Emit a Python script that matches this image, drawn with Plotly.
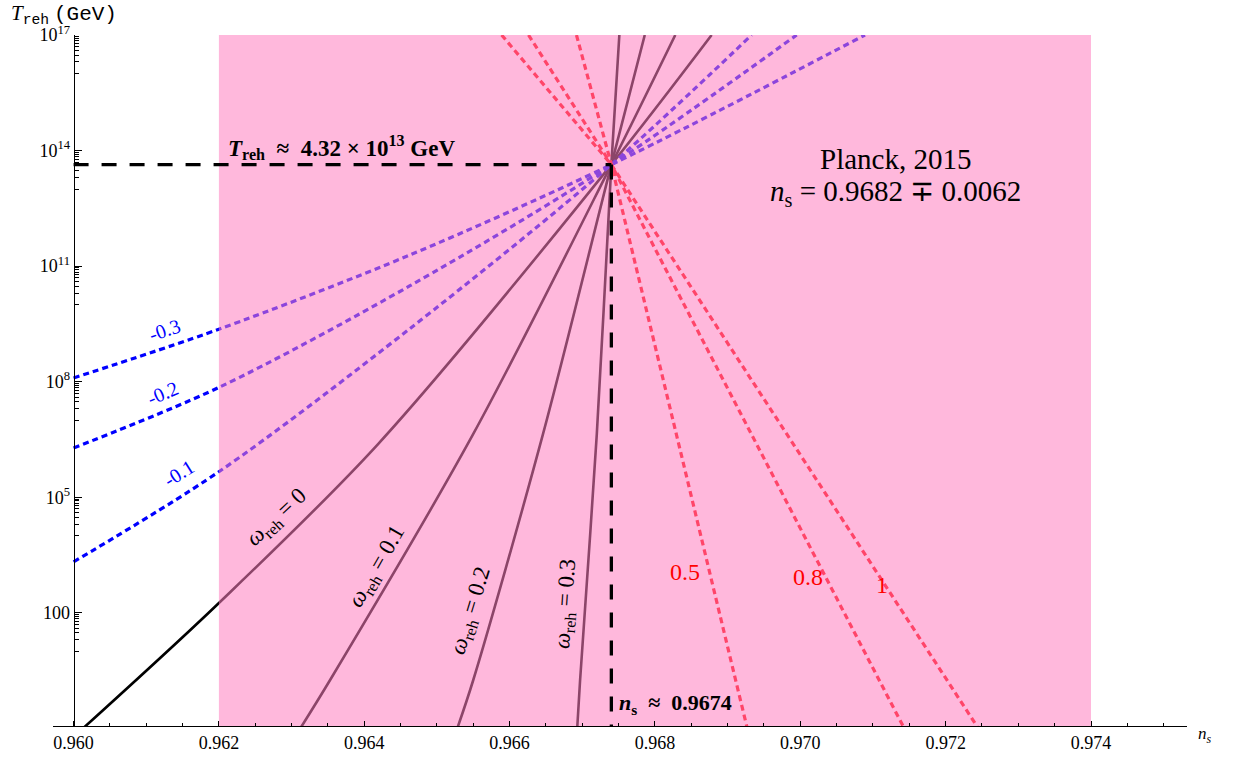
import plotly.graph_objects as go

# ---- data -------------------------------------------------------------
# instantaneous-reheating point where every curve meets
ns_pivot = 0.9674
T_pivot = 4.32e13

# Planck 2015 band on n_s
ns_band = [0.962, 0.974]

# solid curves, omega_reh = 0, 0.1, 0.2, 0.3
ns_w0 = [0.96013, 0.96200, 0.96419, ns_pivot, 0.96878]
T_w0 = [0.1, 1.8e2, 2.4e6, T_pivot, 1e17]
ns_w01 = [0.96312, 0.96353, 0.96550, ns_pivot, 0.96828]
T_w01 = [0.1, 1.8, 4.4e6, T_pivot, 1e17]
ns_w02 = [0.96528, 0.96550, 0.96646, ns_pivot, 0.96786]
T_w02 = [0.1, 1.8, 4.4e6, T_pivot, 1e17]
ns_w03 = [0.96693, 0.96697, 0.96720, ns_pivot, 0.96751]
T_w03 = [0.1, 1.8, 4.4e6, T_pivot, 1e17]

# dashed curves, omega_reh = -0.3, -0.2, -0.1
ns_wm03 = [0.9600, 0.9620, 0.96463, ns_pivot, 0.97089]
T_wm03 = [1.25e8, 2.3e9, 1.95e11, T_pivot, 1e17]
ns_wm02 = [0.9600, 0.9620, 0.96463, ns_pivot, 0.96995]
T_wm02 = [1.9e6, 7.1e7, 3.1e10, T_pivot, 1e17]
ns_wm01 = [0.9600, 0.9620, 0.96463, ns_pivot, 0.96933]
T_wm01 = [2.1e3, 4.6e5, 2.4e9, T_pivot, 1e17]

# dashed curves, omega_reh = 0.5, 0.8, 1
ns_w05 = [0.96692, ns_pivot, 0.96927]
T_w05 = [1e17, T_pivot, 0.1]
ns_w08 = [0.96626, ns_pivot, 0.97143]
T_w08 = [1e17, T_pivot, 0.1]
ns_w1 = [0.96589, ns_pivot, 0.97245]
T_w1 = [1e17, T_pivot, 0.1]

# axis ticks
x_ticks = [0.960, 0.962, 0.964, 0.966, 0.968, 0.970, 0.972, 0.974]
x_ticktext = ["0.960", "0.962", "0.964", "0.966", "0.968", "0.970", "0.972", "0.974"]
y_ticks = [1e2, 1e5, 1e8, 1e11, 1e14, 1e17]
y_ticktext = ["100", "10<sup>5</sup>", "10<sup>8</sup>", "10<sup>11</sup>",
              "10<sup>14</sup>", "10<sup>17</sup>"]

# ---- layout geometry ---------------------------------------------------
W, H = 1233, 765
ML, MR, MT, MB = 53, 46, 35, 28
PW, PH = W - ML - MR, H - MT - MB


def px(x):
    return (x - ML) / PW


def py(y):
    return (H - MB - y) / PH


SERIF = "Liberation Serif"
MONO = "Liberation Mono"
NB = "\u00a0"

fig = go.Figure()


def curve(xs, ys, color, width, dash=None, smooth=False):
    line = dict(color=color, width=width, dash=dash)
    if smooth:
        line.update(shape="spline", smoothing=0.9)
    fig.add_trace(go.Scatter(
        x=xs, y=ys, mode="lines", hoverinfo="skip", showlegend=False,
        line=line,
    ))


solid_col = "#000000"
for xs, ys in [(ns_w0, T_w0), (ns_w01, T_w01), (ns_w02, T_w02), (ns_w03, T_w03)]:
    curve(xs, ys, solid_col, 2.6, smooth=True)

for xs, ys in [(ns_wm03, T_wm03), (ns_wm02, T_wm02), (ns_wm01, T_wm01)]:
    curve(xs, ys, "#0000ff", 3.2, "6px,4px", smooth=True)

for xs, ys in [(ns_w05, T_w05), (ns_w08, T_w08), (ns_w1, T_w1)]:
    curve(xs, ys, "#ff0000", 3.2, "6px,4px")

# translucent Planck band laid over the curves
fig.add_trace(go.Scatter(
    x=[ns_band[0], ns_band[1], ns_band[1], ns_band[0], ns_band[0]],
    y=[1e-3, 1e-3, 1e17, 1e17, 1e-3],
    mode="lines", fill="toself", fillcolor="rgba(255,125,192,0.55)",
    line=dict(width=0), hoverinfo="skip", showlegend=False,
))

# reference lines through the pivot
curve([0.960, ns_pivot], [T_pivot, T_pivot], "#000000", 3.3, "15px,13px")
curve([ns_pivot, ns_pivot], [T_pivot, 0.1], "#000000", 3.3, "15px,13px")

# ---- axes --------------------------------------------------------------
x_minor = [round(0.9600 + 0.0005 * i, 4) for i in range(31)]
x_minor = [v for v in x_minor if all(abs(v - t) > 1e-6 for t in x_ticks)]
y_minor = []
for t in y_ticks:
    for k in range(1, 10):
        y_minor.append(k * t / 10)

fig.update_xaxes(
    range=[0.959717, 0.975321], showgrid=False, zeroline=False,
    showline=True, linecolor="black", linewidth=1,
    tickmode="array", tickvals=x_ticks, ticktext=x_ticktext,
    ticks="inside", ticklen=5, tickwidth=1, tickcolor="black",
    tickfont=dict(family=SERIF, size=18, color="black"),
    minor=dict(tickmode="array", tickvals=x_minor, ticks="inside",
               ticklen=3, tickwidth=1, tickcolor="black", showgrid=False),
)
fig.update_yaxes(
    type="log", range=[-0.939, 17], showgrid=False, zeroline=False,
    anchor="free", position=(73.6 - ML) / PW,
    showline=True, linecolor="black", linewidth=1,
    tickmode="array", tickvals=y_ticks, ticktext=y_ticktext,
    ticks="inside", ticklen=7, tickwidth=1, tickcolor="black",
    tickfont=dict(family=SERIF, size=18, color="black"),
    minor=dict(tickmode="array", tickvals=y_minor, ticks="inside",
               ticklen=4, tickwidth=1, tickcolor="black", showgrid=False),
)

# ---- text --------------------------------------------------------------
ann = []


def label(x, y, text, size, color="black", family=SERIF, angle=0,
          xanchor="center", yanchor="middle"):
    ann.append(dict(
        x=px(x), y=py(y), xref="paper", yref="paper", text=text,
        showarrow=False, textangle=angle, xanchor=xanchor, yanchor=yanchor,
        font=dict(family=family, size=size, color=color),
    ))


# axis titles
label(9, 14, f"<span style='font-family:{SERIF}'><i>T</i></span><sub>reh</sub>"
      f"<span style='font-size:8px'>{NB}</span>(GeV)",
      21, family=MONO, xanchor="left")
label(1196, 746, "<i>n<sub>s</sub></i>", 17, xanchor="left")

# pivot values
label(226, 149, f"<b><i>T</i><sub>reh</sub>{NB}{NB}≈{NB}{NB}4.32{NB}×{NB}10<sup>13</sup>{NB}GeV</b>",
      23, xanchor="left")
label(617, 715, f"<b><i>n</i><sub>s</sub>{NB}{NB}≈{NB}{NB}0.9674</b>", 22, xanchor="left")

# Planck constraint
label(895, 161, "Planck, 2015", 29)
label(895, 196, "<i>n</i><sub>s</sub> = 0.9682 ∓ 0.0062", 29)

# curve labels
label(164.5, 335, "-0.3", 20, color="#0000ff", angle=-19)
label(163, 399, "-0.2", 20, color="#0000ff", angle=-23)
label(179, 480, "-0.1", 20, color="#0000ff", angle=-32)

label(277, 526, "<i>ω</i><sub>reh</sub> = 0", 23, angle=-43)
label(377, 575, "<i>ω</i><sub>reh</sub> = 0.1", 23, angle=-60)
label(471, 620, "<i>ω</i><sub>reh</sub> = 0.2", 23, angle=-73)
label(566, 613, "<i>ω</i><sub>reh</sub> = 0.3", 23, angle=-86)

label(685, 581, "0.5", 24, color="#ff0000")
label(808, 586, "0.8", 24, color="#ff0000")
label(882, 594, "1", 24, color="#ff0000")

fig.update_layout(
    width=W, height=H, margin=dict(l=ML, r=MR, t=MT, b=MB),
    plot_bgcolor="white", paper_bgcolor="white",
    showlegend=False, annotations=ann,
)

fig.write_html("out.html")
